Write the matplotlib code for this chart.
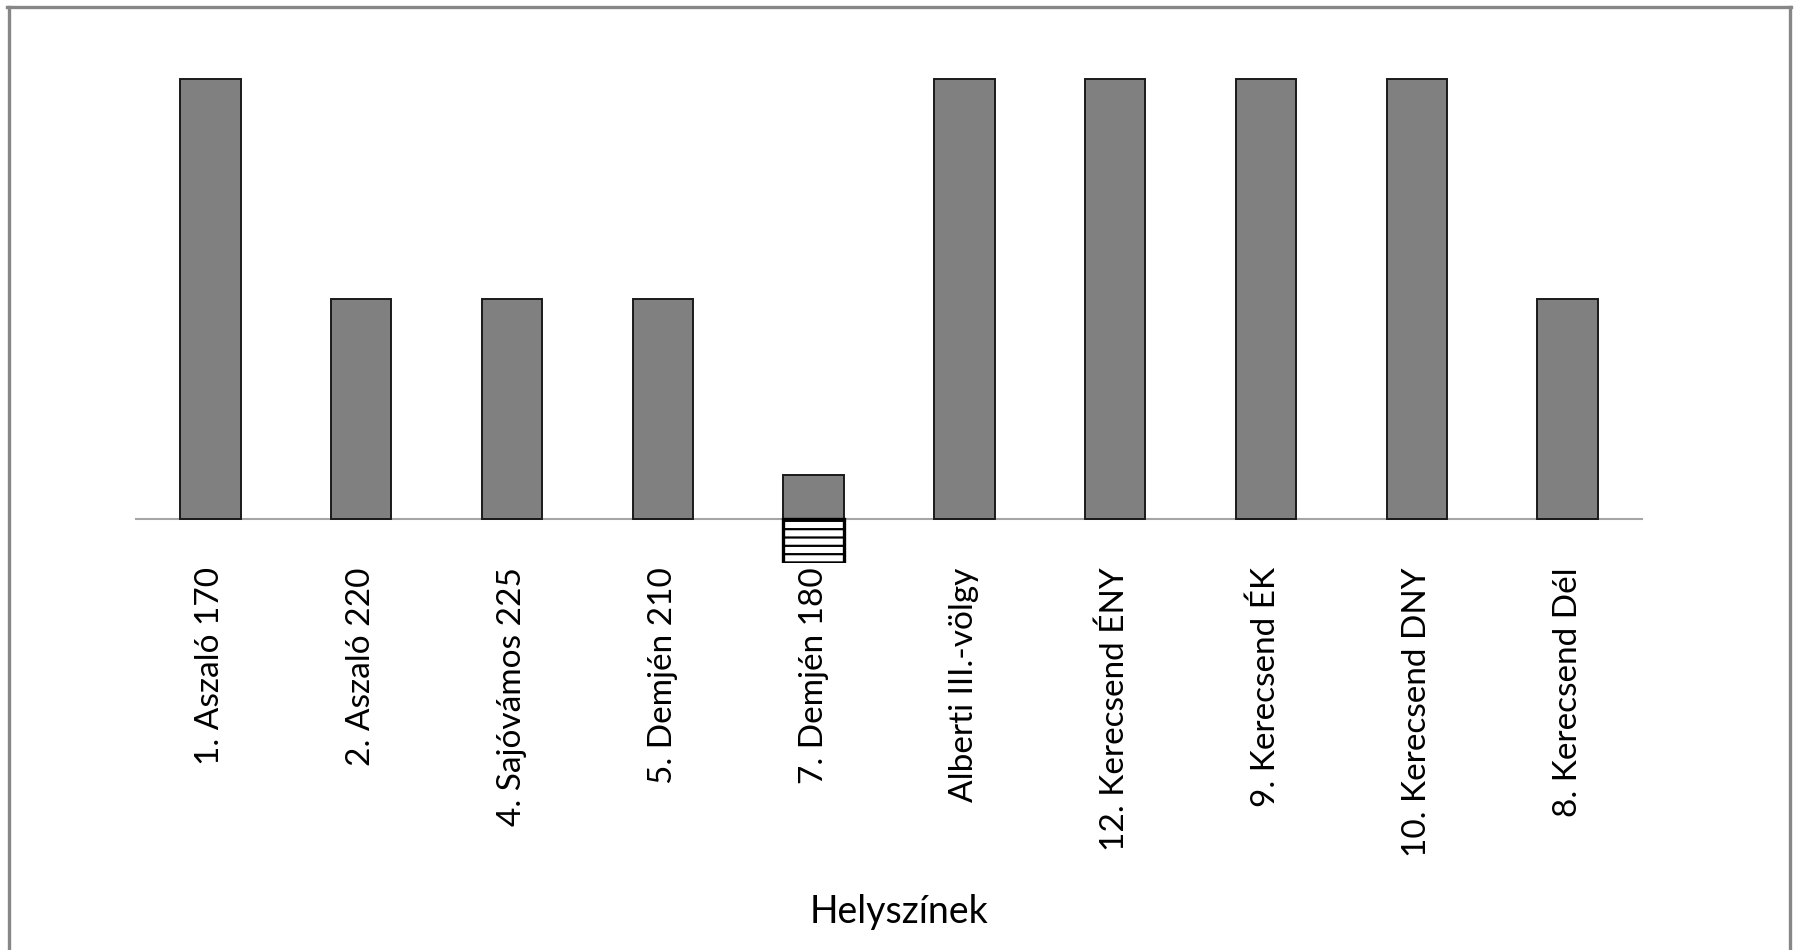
import numpy as np
import matplotlib.pyplot as plt
from matplotlib.lines import Line2D

# Data
helyszinek = ["1. Aszaló 170", "2. Aszaló 220", "4. Sajóvámos 225", "5. Demjén 210",
              "7. Demjén 180", "Alberti III.-völgy", "12. Kerecsend ÉNY", "9. Kerecsend ÉK",
              "10. Kerecsend DNY", "8. Kerecsend Dél"]
ertek = [1.0, 0.5, 0.5, 0.5, 0.1, 1.0, 1.0, 1.0, 1.0, 0.5]
negativ = [0, 0, 0, 0, -0.1, 0, 0, 0, 0, 0]

plt.rcParams['font.family'] = ['Lato', 'DejaVu Sans']
plt.rcParams['hatch.linewidth'] = 1.6

fig = plt.figure(figsize=(18, 9.5), dpi=100)
W, H = 1800, 950
# axes placed in pixel terms: baseline at y=519 from top, value 1 at y=79
y0 = H - 519
unit = 440
ymin, ymax = -0.1, 1.1
ax = fig.add_axes([135 / W, (y0 + ymin * unit) / H, (1643 - 135) / W, (ymax - ymin) * unit / H])

x = np.arange(len(helyszinek))
ax.bar(x, ertek, width=0.4, color='#808080', edgecolor='#1a1a1a', linewidth=1.4, zorder=3)
neg_idx = [i for i, v in enumerate(negativ) if v != 0]
ax.bar(x[neg_idx], [negativ[i] for i in neg_idx], width=0.4, color='white',
       edgecolor='black', hatch='--', linewidth=2.4, zorder=3)

ax.axhline(0, color='#a6a6a6', linewidth=1.5, zorder=2)
ax.set_xlim(-0.5, len(helyszinek) - 0.5)
ax.set_ylim(ymin, ymax)
ax.set_xticks(x)
ax.set_xticklabels(helyszinek, rotation=90, fontsize=24, color='black')
ax.tick_params(axis='x', length=0, pad=3)
ax.set_yticks([])
for s in ax.spines.values():
    s.set_visible(False)

fig.text(899 / W, 1 - 912 / H, "Helyszínek", ha='center', va='center', fontsize=27)

# gray frame around the chart (no bottom edge visible)
for xs, ys in [([7 / W, 1791 / W], [1 - 7 / H, 1 - 7 / H]),
               ([9 / W, 9 / W], [0, 1 - 7 / H]),
               ([1790 / W, 1790 / W], [0, 1 - 7 / H])]:
    fig.add_artist(Line2D(xs, ys, color='#878787', linewidth=2.4, transform=fig.transFigure))

fig.savefig('out.png', dpi=100, facecolor='white')
